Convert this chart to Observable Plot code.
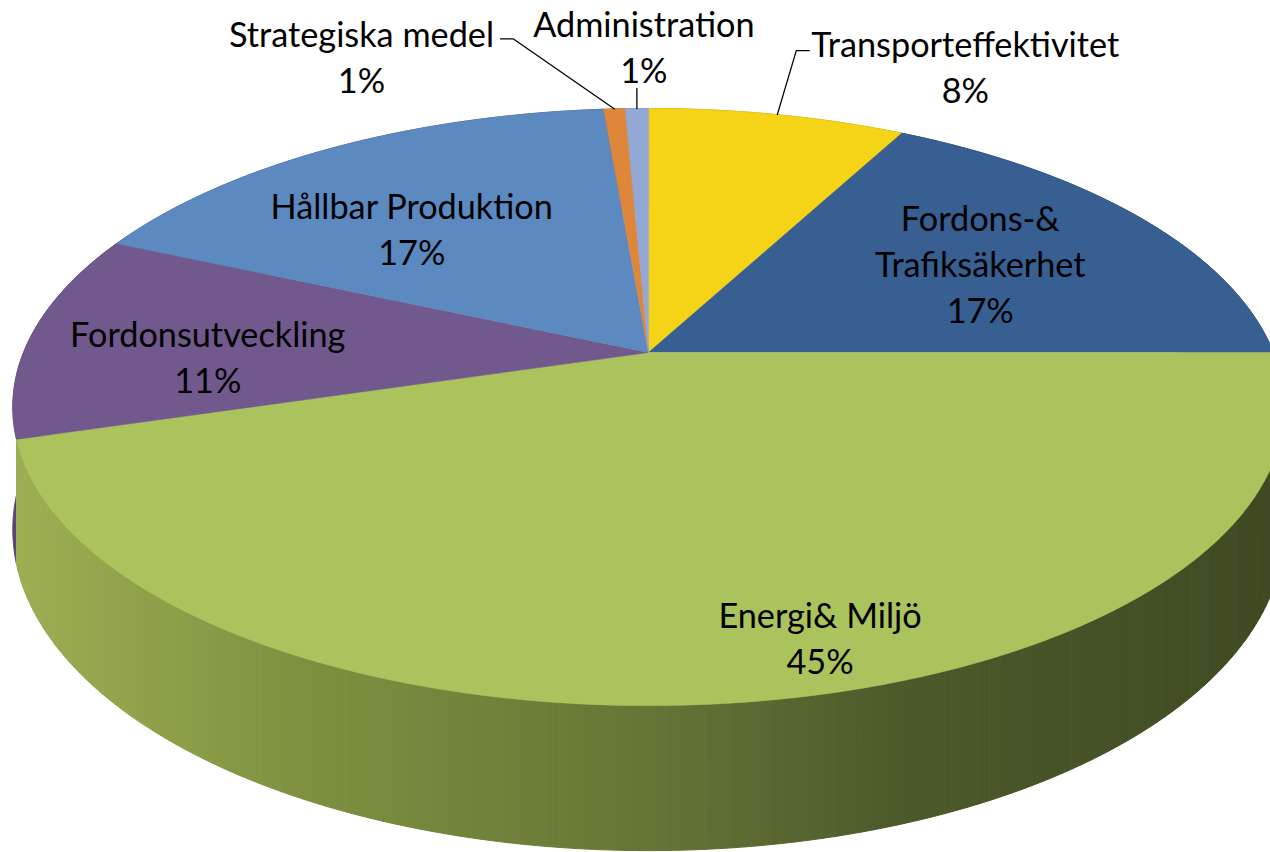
<!DOCTYPE html>
<html>
<head>
<meta charset="utf-8">
<script src="https://cdn.jsdelivr.net/npm/d3@7"></script>
<script src="https://cdn.jsdelivr.net/npm/@observablehq/plot@0.6"></script>
<style>
  html, body { margin: 0; padding: 0; background: #fff; overflow: hidden; }
  #chart svg { display: block; }
</style>
</head>
<body>
<div id="chart"></div>
<script>
// ---- Data ----
const categories = ["Transporteffektivitet", "Fordons-&\nTrafiksäkerhet", "Energi& Miljö", "Fordonsutveckling", "Hållbar Produktion", "Strategiska medel", "Administration"];
const shares = [7.8, 17.2, 45.4, 11.25, 17.0, 0.65, 0.7];
const percentLabels = ["8%", "17%", "45%", "11%", "17%", "1%", "1%"];

// ---- Styles ----
const topColors  = ["#F5D316", "#375F91", "#ABC35D", "#71598D", "#5C89C0", "#DE863A", "#94A8D6"];
const wallColors = ["#B89E10", "#29476C", null, "#5A4674", "#44679A", "#A86530", "#6F7DA0"];
const energiWall = d3.piecewise(d3.interpolateRgb, ["#9CAF53", "#7E9140", "#657536", "#4C5A2B", "#3F4A22"]);
const energiWallX = d3.scaleLinear().domain([20, 300, 650, 900, 1270]).range([0, 0.25, 0.5, 0.75, 1]).clamp(true);

// ---- Layout (3D projection of the pie) ----
const W = 1270, HT = 852;
const CX = 648, CY = 352, RX = 625, RY = 288.6, K = 0.1827, THICK = 118.5;
function proj(theta, r, depth) {
  const X = r * Math.sin(theta), Z = -r * Math.cos(theta);
  const den = 1 - K * Z;
  return [CX + RX * X / den, CY + RY * Z / den + depth * THICK / den];
}
// inside labels: radius fraction and angular shift (deg) from slice mid
const inside = {1: [0.653, 0.5], 2: [0.866, -7.3], 3: [0.704, -4.5], 4: [0.625, -5.7]};
// outside labels: leader offsets from the rim anchor, and text-centre offset
const outside = {
  0: {leader: [[19, -64], [32, -64]], text: [188, -49]},
  5: {leader: [[-101, -70], [-114, -70]], text: [-253, -54]},
  6: {leader: [[0, -20]], text: [7, -63]}
};

const arcs = d3.pie().sort(null).value(d => d).startAngle(0).endAngle(2 * Math.PI)(shares);
const deg = Math.PI / 180;

// walls
const walls = [];
arcs.forEach((a, i) => {
  const a0 = a.startAngle, a1 = a.endAngle;
  const n = Math.max(2, Math.ceil((a1 - a0) / deg));
  if (i === 2) {
    for (let s = 0; s < n; s++) {
      const t0 = a0 + (a1 - a0) * s / n, t1 = a0 + (a1 - a0) * (s + 1) / n;
      const pts = [proj(t0, 1, 0), proj(t1, 1, 0), proj(t1, 1, 1), proj(t0, 1, 1)];
      const mx = d3.mean(pts, p => p[0]);
      const col = d3.color(energiWall(energiWallX(mx))).formatHex();
      pts.forEach(p => walls.push({id: `w${i}-${s}`, x: p[0], y: p[1], fill: col, near: -Math.cos((t0 + t1) / 2)}));
    }
  } else {
    const pts = [];
    for (let s = 0; s <= n; s++) pts.push(proj(a0 + (a1 - a0) * s / n, 1, 0));
    for (let s = n; s >= 0; s--) pts.push(proj(a0 + (a1 - a0) * s / n, 1, 1));
    const near = -Math.cos((a0 + a1) / 2);
    pts.forEach(p => walls.push({id: `w${i}`, x: p[0], y: p[1], fill: wallColors[i], near}));
  }
});
// far walls first
const wallOrder = Array.from(new Set(walls.map(d => d.id)))
  .sort((p, q) => walls.find(d => d.id === p).near - walls.find(d => d.id === q).near);
const wallsSorted = wallOrder.flatMap(id => walls.filter(d => d.id === id));

// top faces
const tops = [];
arcs.forEach((a, i) => {
  const a0 = a.startAngle, a1 = a.endAngle;
  const n = Math.max(2, Math.ceil((a1 - a0) / (0.5 * deg)));
  const c = proj(0, 0, 0);
  tops.push({id: `t${i}`, x: c[0], y: c[1], fill: topColors[i]});
  for (let s = 0; s <= n; s++) {
    const p = proj(a0 + (a1 - a0) * s / n, 1, 0);
    tops.push({id: `t${i}`, x: p[0], y: p[1], fill: topColors[i]});
  }
});

// labels
const labels = [];
const leaders = [];
arcs.forEach((a, i) => {
  const mid = (a.startAngle + a.endAngle) / 2;
  const text = categories[i] + "\n" + percentLabels[i];
  if (inside[i]) {
    const [r, sh] = inside[i];
    const p = proj(mid + sh * deg, r, 0);
    labels.push({x: p[0], y: p[1], text});
  } else {
    const o = outside[i];
    const p = proj(mid, 1, 0);
    leaders.push({id: i, x: p[0], y: p[1]});
    o.leader.forEach(([dx, dy]) => leaders.push({id: i, x: p[0] + dx, y: p[1] + dy}));
    labels.push({x: p[0] + o.text[0], y: p[1] + o.text[1], text});
  }
});

// font size fitted to the reference width of the longest label
const FONT = "Lato, 'Open Sans', sans-serif";
const ctx = document.createElement("canvas").getContext("2d");
ctx.font = `100px Lato`;
const wT = ctx.measureText("Transporteffektivitet").width;
let fontSize = Math.max(26, Math.min(40, 100 * 308 / wT));

const chart = Plot.plot({
  width: W, height: HT, margin: 0,
  x: {domain: [0, W], range: [0, W], axis: null},
  y: {domain: [0, HT], range: [0, HT], axis: null},
  color: {type: "identity"},
  style: {background: "white", fontFamily: FONT},
  marks: [
    Plot.line(wallsSorted, {x: "x", y: "y", z: "id", fill: "fill", stroke: "fill", strokeWidth: 1, curve: "linear-closed"}),
    Plot.line(tops, {x: "x", y: "y", z: "id", fill: "fill", stroke: "fill", strokeWidth: 0.6, curve: "linear-closed"}),
    Plot.line(leaders, {x: "x", y: "y", z: "id", stroke: "black", strokeWidth: 1.3}),
    Plot.text(labels, {x: "x", y: "y", text: "text", fontSize, lineHeight: 46 / fontSize, fill: "black", fontFamily: FONT})
  ]
});
document.getElementById("chart").appendChild(chart);
</script>
</body>
</html>
